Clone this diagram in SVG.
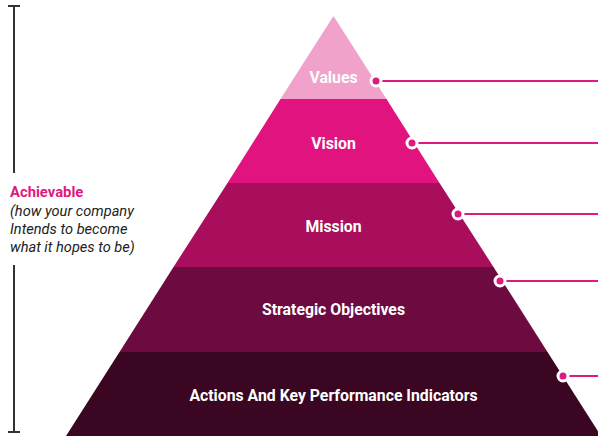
<svg xmlns="http://www.w3.org/2000/svg" width="598" height="438" viewBox="0 0 598 438">
<style>
.lbl{font-family:Roboto,"Liberation Sans",sans-serif;font-weight:bold;font-size:15.8px;fill:#ffffff;text-anchor:middle}
.side{font-family:Roboto,"Liberation Sans",sans-serif;font-size:14.6px;fill:#222222;font-style:italic}
.conn{stroke:#e0197f;stroke-width:2;fill:none}
.ring{fill:#e0197f;stroke:#ffffff;stroke-width:3}
.bar{stroke:#333333;stroke-width:2;fill:none}
</style>
<rect width="598" height="438" fill="#ffffff"/>
<g id="scale">
<path class="bar" d="M8,6H20M14,6V173M14,265V432M8,432H20"/>
<text x="10" y="197" style="font-family:Roboto,'Liberation Sans',sans-serif;font-weight:bold;font-size:14.8px;fill:#e0197f">Achievable</text>
<text class="side" x="10" y="216">(how your company</text>
<text class="side" x="10" y="234">Intends to become</text>
<text class="side" x="10" y="252">what it hopes to be)</text>
</g>
<g id="values">
<polygon points="333.5,16 386.5,99 280.5,99" fill="#f0a2cb"/>
<text class="lbl" x="333.5" y="83">Values</text>
</g>
<g id="vision">
<polygon points="280.5,99 386.5,99 439.5,183 227.5,183" fill="#e0137f"/>
<text class="lbl" x="333.5" y="149">Vision</text>
</g>
<g id="mission">
<polygon points="227.5,183 439.5,183 493.5,267 173.5,267" fill="#a80e5c"/>
<text class="lbl" x="333.5" y="232">Mission</text>
</g>
<g id="strategic">
<polygon points="173.5,267 493.5,267 547.5,352 119.5,352" fill="#6d0b40"/>
<text class="lbl" x="333.5" y="315">Strategic Objectives</text>
</g>
<g id="actions">
<polygon points="119.5,352 547.5,352 601,436 66,436" fill="#3a0621"/>
<text class="lbl" x="333.5" y="401">Actions And Key Performance Indicators</text>
</g>
<g id="connectors">
<line class="conn" x1="376" y1="81" x2="598" y2="81"/>
<line class="conn" x1="412" y1="143" x2="598" y2="143"/>
<line class="conn" x1="458" y1="214" x2="598" y2="214"/>
<line class="conn" x1="500" y1="281" x2="598" y2="281"/>
<line class="conn" x1="563" y1="376" x2="598" y2="376"/>
<circle class="ring" cx="376" cy="81" r="5"/>
<circle class="ring" cx="412" cy="143" r="5"/>
<circle class="ring" cx="458" cy="214" r="5"/>
<circle class="ring" cx="500" cy="281" r="5"/>
<circle class="ring" cx="563" cy="376" r="5"/>
</g>
</svg>
